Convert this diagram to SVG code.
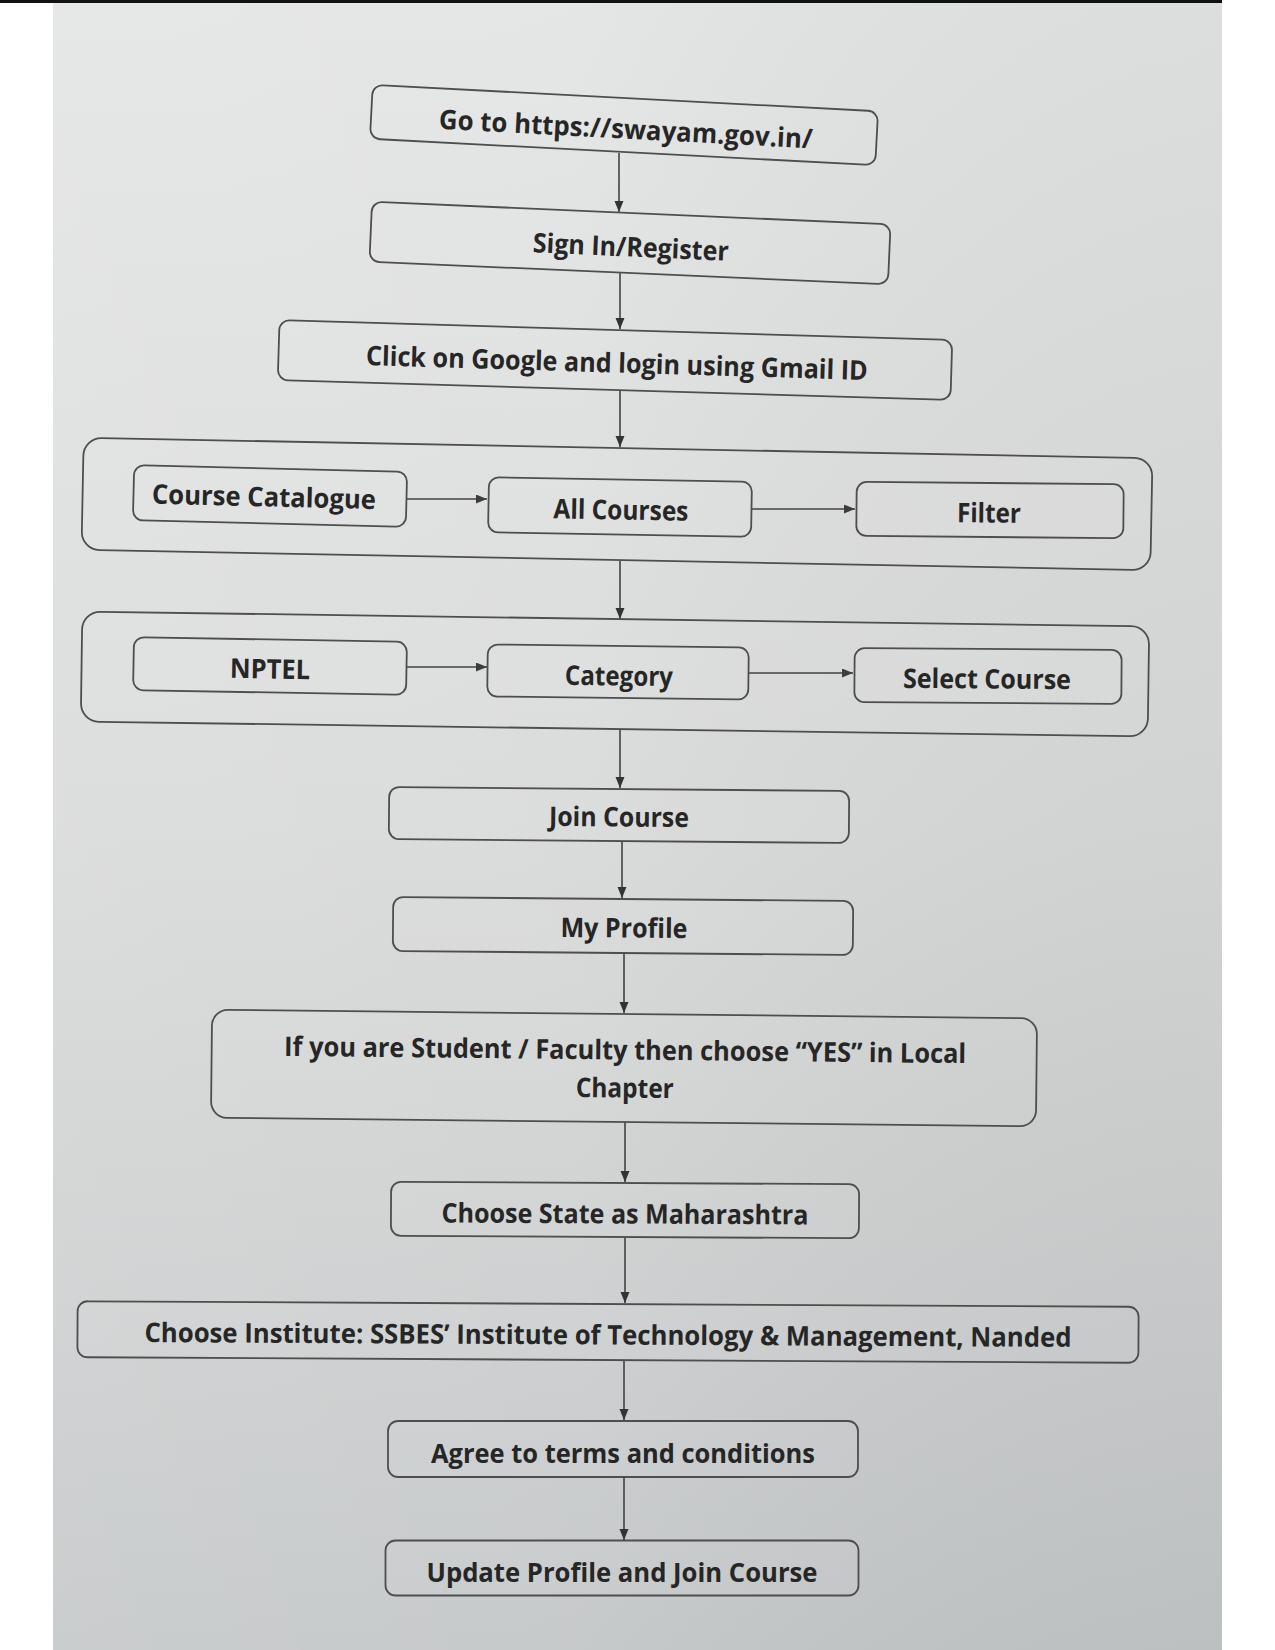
<svg xmlns="http://www.w3.org/2000/svg" width="1275" height="1650" viewBox="0 0 1275 1650">
<defs>
<linearGradient id="pgV" x1="0" y1="0" x2="0" y2="1">
<stop offset="0" stop-color="#e3e4e4"/>
<stop offset="0.5" stop-color="#d8d9d9"/>
<stop offset="1" stop-color="#c3c6c7"/>
</linearGradient>
<linearGradient id="pgH" x1="0" y1="0" x2="1" y2="0">
<stop offset="0" stop-color="#ffffff" stop-opacity="0.12"/>
<stop offset="0.45" stop-color="#ffffff" stop-opacity="0.06"/>
<stop offset="1" stop-color="#000000" stop-opacity="0.03"/>
</linearGradient>
<marker id="ah" markerWidth="13" markerHeight="10" refX="11" refY="4.5" orient="auto" markerUnits="userSpaceOnUse">
<path d="M0,0 L11,4.5 L0,9 z" fill="#333"/>
</marker>
<style>
.box{fill:#ffffff;fill-opacity:0.05;stroke:#4e4e4e;stroke-width:1.8}
.t{font-family:"Open Sans","Noto Sans",sans-serif;font-weight:700;font-size:27px;fill:#262626;text-anchor:middle;dominant-baseline:central}
.c{stroke:#383838;stroke-width:1.5;fill:none;marker-end:url(#ah)}
</style>
</defs>
<rect x="0" y="0" width="1275" height="1650" fill="#ffffff"/>
<rect x="53" y="0" width="1169" height="1650" fill="url(#pgV)"/>
<rect x="53" y="0" width="1169" height="1650" fill="url(#pgH)"/>
<rect x="0" y="0" width="1222" height="3" fill="#111"/>

<g id="connectors">
<line class="c" x1="619" y1="153" x2="619" y2="212"/>
<line class="c" x1="620" y1="273" x2="620" y2="329"/>
<line class="c" x1="620" y1="390" x2="620" y2="447"/>
<line class="c" x1="620" y1="561" x2="620" y2="619"/>
<line class="c" x1="620" y1="729" x2="620" y2="788"/>
<line class="c" x1="622" y1="841" x2="622" y2="898"/>
<line class="c" x1="624" y1="953" x2="624" y2="1013"/>
<line class="c" x1="625" y1="1122" x2="625" y2="1182"/>
<line class="c" x1="625" y1="1237" x2="625" y2="1303"/>
<line class="c" x1="624" y1="1360" x2="624" y2="1420"/>
<line class="c" x1="624" y1="1477" x2="624" y2="1540"/>
<line class="c" x1="407" y1="499" x2="487" y2="499"/>
<line class="c" x1="751" y1="509" x2="855" y2="509"/>
<line class="c" x1="407" y1="667" x2="487" y2="667"/>
<line class="c" x1="749" y1="673" x2="853" y2="673"/>
</g>

<g id="n1" transform="rotate(3 624 125)">
<rect class="box" x="371" y="98" width="506" height="54" rx="10"/>
<text class="t" x="626" y="128" textLength="374" lengthAdjust="spacingAndGlyphs">Go to https://swayam.gov.in/</text>
</g>
<g id="n2" transform="rotate(2.5 630 243)">
<rect class="box" x="370.5" y="213" width="519" height="60" rx="10"/>
<text class="t" x="631" y="246" textLength="196" lengthAdjust="spacingAndGlyphs">Sign In/Register</text>
</g>
<g id="n3" transform="rotate(1.7 615 360)">
<rect class="box" x="278.5" y="330" width="673" height="60" rx="10"/>
<text class="t" x="617" y="362" textLength="502" lengthAdjust="spacingAndGlyphs">Click on Google and login using Gmail ID</text>
</g>

<g id="g1" transform="rotate(1.1 617 504)">
<rect class="box" x="82.5" y="448" width="1069" height="112" rx="18"/>
</g>
<g id="n4" transform="rotate(1.4 270 496)">
<rect class="box" x="133.5" y="468.5" width="273" height="55" rx="10"/>
<text class="t" x="264" y="496" textLength="224" lengthAdjust="spacingAndGlyphs">Course Catalogue</text>
</g>
<g id="n5" transform="rotate(1 620 507)">
<rect class="box" x="488.5" y="479.5" width="263" height="55" rx="10"/>
<text class="t" x="621" y="509" textLength="135" lengthAdjust="spacingAndGlyphs">All Courses</text>
</g>
<g id="n6" transform="rotate(0.5 990 510)">
<rect class="box" x="856.5" y="483" width="267" height="54" rx="10"/>
<text class="t" x="989" y="512" textLength="64" lengthAdjust="spacingAndGlyphs">Filter</text>
</g>

<g id="g2" transform="rotate(0.8 615 674)">
<rect class="box" x="81.5" y="619" width="1067" height="110" rx="18"/>
</g>
<g id="n7" transform="rotate(1 270 666)">
<rect class="box" x="133.5" y="639.5" width="273" height="53" rx="10"/>
<text class="t" x="270" y="668" textLength="80" lengthAdjust="spacingAndGlyphs">NPTEL</text>
</g>
<g id="n8" transform="rotate(0.7 618 672)">
<rect class="box" x="487.5" y="646" width="261" height="52" rx="10"/>
<text class="t" x="619" y="675" textLength="108" lengthAdjust="spacingAndGlyphs">Category</text>
</g>
<g id="n9" transform="rotate(0.4 988 676)">
<rect class="box" x="854.5" y="649" width="267" height="54" rx="10"/>
<text class="t" x="987" y="678" textLength="168" lengthAdjust="spacingAndGlyphs">Select Course</text>
</g>

<g id="n10" transform="rotate(0.5 619 815)">
<rect class="box" x="389" y="789" width="460" height="52" rx="10"/>
<text class="t" x="619" y="816" textLength="140" lengthAdjust="spacingAndGlyphs">Join Course</text>
</g>
<g id="n11" transform="rotate(0.5 623 926)">
<rect class="box" x="393" y="899" width="460" height="54" rx="10"/>
<text class="t" x="624" y="927" textLength="127" lengthAdjust="spacingAndGlyphs">My Profile</text>
</g>
<g id="n12" transform="rotate(0.6 624 1068)">
<rect class="box" x="211.5" y="1014" width="825" height="108" rx="16"/>
<text class="t" x="625" y="1049" textLength="682" lengthAdjust="spacingAndGlyphs">If you are Student / Faculty then choose “YES” in Local</text>
<text class="t" x="625" y="1087" textLength="98" lengthAdjust="spacingAndGlyphs">Chapter</text>
</g>
<g id="n13" transform="rotate(0.3 625 1210)">
<rect class="box" x="391" y="1183" width="468" height="54" rx="10"/>
<text class="t" x="625" y="1213" textLength="367" lengthAdjust="spacingAndGlyphs">Choose State as Maharashtra</text>
</g>
<g id="n14" transform="rotate(0.3 608 1332)">
<rect class="box" x="77.5" y="1304" width="1061" height="56" rx="10"/>
<text class="t" x="608" y="1334" textLength="927" lengthAdjust="spacingAndGlyphs">Choose Institute: SSBES’ Institute of Technology &amp; Management, Nanded</text>
</g>
<g id="n15">
<rect class="box" x="388" y="1421" width="470" height="56" rx="10"/>
<text class="t" x="623" y="1452" textLength="384" lengthAdjust="spacingAndGlyphs">Agree to terms and conditions</text>
</g>
<g id="n16">
<rect class="box" x="385.5" y="1540.5" width="473" height="55" rx="10"/>
<text class="t" x="622" y="1571" textLength="391" lengthAdjust="spacingAndGlyphs">Update Profile and Join Course</text>
</g>
</svg>
